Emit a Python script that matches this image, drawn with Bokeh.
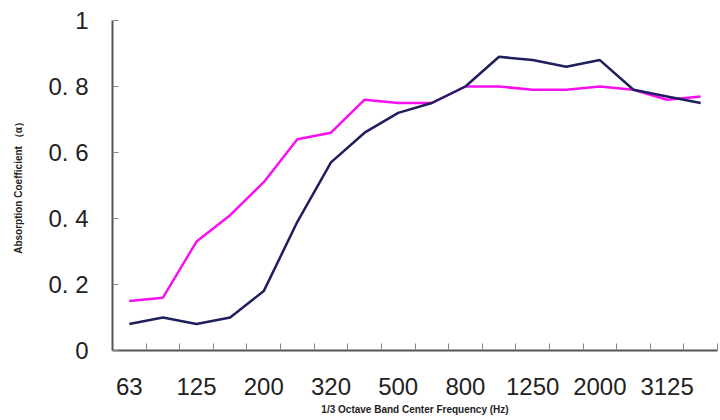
from bokeh.plotting import figure
from bokeh.models import FixedTicker, Range1d
from bokeh.embed import file_html
from bokeh.resources import INLINE

# band center frequencies (Hz); every other one is labelled on the chart
freqs = ["63", "100", "125", "160", "200", "250", "320", "400", "500",
         "630", "800", "1000", "1250", "1600", "2000", "2500", "3125", "4000"]

# absorption coefficients
magenta_vals = [0.15, 0.16, 0.33, 0.41, 0.51, 0.64, 0.66, 0.76, 0.75,
                0.75, 0.80, 0.80, 0.79, 0.79, 0.80, 0.79, 0.76, 0.77]
navy_vals = [0.08, 0.10, 0.08, 0.10, 0.18, 0.39, 0.57, 0.66, 0.72,
             0.75, 0.80, 0.89, 0.88, 0.86, 0.88, 0.79, 0.77, 0.75]

y_ticks = [0, 0.2, 0.4, 0.6, 0.8, 1.0]
y_tick_labels = ["0", "0. 2", "0. 4", "0. 6", "0. 8", "1"]

n = len(freqs)
xs = [i + 0.5 for i in range(n)]

p = figure(width=720, height=420, output_backend="svg", toolbar_location=None,
           x_range=Range1d(0, n), y_range=Range1d(0, 1))
p.min_border_left = 112
p.min_border_right = 3
p.min_border_top = 20
p.min_border_bottom = 70
p.outline_line_color = None
p.background_fill_color = "white"
p.border_fill_color = "white"
p.grid.visible = False

p.line(xs, magenta_vals, line_color="#f810f0", line_width=2.5)
p.line(xs, navy_vals, line_color="#1f1f5f", line_width=2.5)

font = "Liberation Sans"
axis_col = "#555555"

# x axis: labels on every other band, small ticks on band boundaries
label_pos = xs[::2]
p.xaxis.ticker = FixedTicker(ticks=label_pos, minor_ticks=list(range(1, n + 1)))
p.xaxis.major_label_overrides = {xs[i]: freqs[i] for i in range(0, n, 2)}
p.xaxis.major_tick_in = 0
p.xaxis.major_tick_out = 0
p.xaxis.minor_tick_in = 7
p.xaxis.minor_tick_out = 0
p.xaxis.minor_tick_line_color = "#888888"
p.xaxis.axis_line_color = axis_col
p.xaxis.axis_line_width = 2
p.xaxis.major_label_text_font = font
p.xaxis.major_label_text_font_size = "24px"
p.xaxis.major_label_text_color = "#222222"
p.xaxis.major_label_standoff = 27
p.xaxis.axis_label = "1/3 Octave Band Center Frequency (Hz)"
p.xaxis.axis_label_text_font = font
p.xaxis.axis_label_text_font_style = "bold"
p.xaxis.axis_label_text_font_size = "10px"
p.xaxis.axis_label_text_color = "#222222"
p.xaxis.axis_label_standoff = 6

# y axis
p.yaxis.ticker = FixedTicker(ticks=y_ticks, minor_ticks=[])
p.yaxis.major_label_overrides = {t: s for t, s in zip(y_ticks, y_tick_labels)}
p.yaxis.major_tick_in = 6
p.yaxis.major_tick_out = 0
p.yaxis.major_tick_line_color = "#888888"
p.yaxis.axis_line_color = axis_col
p.yaxis.axis_line_width = 2
p.yaxis.major_label_text_font = font
p.yaxis.major_label_text_font_size = "24px"
p.yaxis.major_label_text_color = "#222222"
p.yaxis.major_label_standoff = 24
p.yaxis.axis_label = "Absorption Coefficient （α）"
p.yaxis.axis_label_text_font = font
p.yaxis.axis_label_text_font_style = "bold"
p.yaxis.axis_label_text_font_size = "10px"
p.yaxis.axis_label_text_color = "#222222"
p.yaxis.axis_label_standoff = 21

open("out.html", "w").write(file_html(p, INLINE))
